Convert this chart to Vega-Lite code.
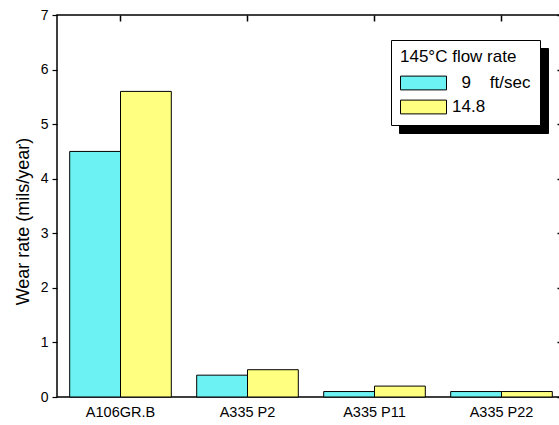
{
  "$schema": "https://vega.github.io/schema/vega-lite/v6.json",
  "width": 508,
  "height": 382,
  "autosize": "none",
  "padding": {"left": 57, "top": 15, "right": 0, "bottom": 28},
  "background": "white",
  "config": {
    "view": {"stroke": "black", "strokeWidth": 1.5},
    "font": "Liberation Sans",
    "axis": {
      "domain": false,
      "tickColor": "black",
      "labelColor": "black",
      "labelFont": "Liberation Sans",
      "titleFont": "Liberation Sans",
      "titleColor": "black",
      "titleFontWeight": "normal",
      "grid": false
    }
  },
  "data": {
    "values": [
      {"alloy": "A106GR.B", "rate": "\u200b\u00a0\u00a09\u00a0\u00a0\u00a0\u00a0ft/sec", "wear": 4.5},
      {"alloy": "A106GR.B", "rate": "14.8", "wear": 5.6},
      {"alloy": "A335 P2", "rate": "\u200b\u00a0\u00a09\u00a0\u00a0\u00a0\u00a0ft/sec", "wear": 0.4},
      {"alloy": "A335 P2", "rate": "14.8", "wear": 0.5},
      {"alloy": "A335 P11", "rate": "\u200b\u00a0\u00a09\u00a0\u00a0\u00a0\u00a0ft/sec", "wear": 0.1},
      {"alloy": "A335 P11", "rate": "14.8", "wear": 0.2},
      {"alloy": "A335 P22", "rate": "\u200b\u00a0\u00a09\u00a0\u00a0\u00a0\u00a0ft/sec", "wear": 0.1},
      {"alloy": "A335 P22", "rate": "14.8", "wear": 0.1}
    ]
  },
  "layer": [
    {
      "mark": {"type": "bar", "stroke": "black", "strokeWidth": 1},
      "encoding": {
        "x": {
          "field": "alloy",
          "type": "nominal",
          "sort": ["A106GR.B", "A335 P2", "A335 P11", "A335 P22"],
          "scale": {"paddingInner": 0.2, "paddingOuter": 0.1},
          "axis": {"title": null, "orient": "bottom", "ticks": false, "labelAngle": 0, "labelFontSize": 14.5, "labelPadding": 8}
        },
        "xOffset": {
          "field": "rate",
          "type": "nominal",
          "sort": ["\u200b\u00a0\u00a09\u00a0\u00a0\u00a0\u00a0ft/sec", "14.8"],
          "scale": {"paddingInner": 0, "paddingOuter": 0}
        },
        "y": {
          "field": "wear",
          "type": "quantitative",
          "scale": {"domain": [0, 7], "nice": false},
          "axis": {"title": "Wear rate (mils/year)", "orient": "left", "tickCount": 7, "ticks": true, "tickSize": 5, "tickWidth": 1.2, "tickColor": "black", "labelPadding": 4, "labelFontSize": 14, "titleFontSize": 18, "titleY": 206, "titlePadding": 8}
        },
        "fill": {
          "field": "rate",
          "type": "nominal",
          "scale": {"domain": ["\u200b\u00a0\u00a09\u00a0\u00a0\u00a0\u00a0ft/sec", "14.8"], "range": ["#6cf2f2", "#ffff80"]},
          "legend": {
            "title": "145°C flow rate",
            "orient": "none",
            "legendX": 334,
            "legendY": 25,
            "zindex": 3,
            "padding": 9,
            "strokeColor": "black",
            "fillColor": "white",
            "titleFontSize": 17,
            "titleFontWeight": "normal",
            "titleColor": "black",
            "titleFont": "Liberation Sans",
            "titlePadding": 5,
            "labelFontSize": 17,
            "labelColor": "black",
            "labelFont": "Liberation Sans",
            "labelOffset": 28,
            "rowPadding": 3,
            "symbolType": "M-1,-0.6H3V0.6H-1Z",
            "symbolSize": 529,
            "symbolStrokeColor": "black",
            "symbolStrokeWidth": 1,
            "symbolOpacity": 1
          }
        }
      }
    },
    {
      "mark": {"type": "tick", "opacity": 0},
      "encoding": {
        "x": {
          "field": "alloy",
          "type": "nominal",
          "sort": ["A106GR.B", "A335 P2", "A335 P11", "A335 P22"],
          "axis": {"title": null, "orient": "top", "zindex": 2, "offset": -6, "labels": false, "ticks": true, "tickSize": 6, "tickWidth": 1.5, "tickColor": "black"}
        },
        "y": {
          "field": "wear",
          "type": "quantitative",
          "axis": {"title": null, "orient": "right", "zindex": 2, "offset": -8, "labels": false, "tickCount": 7, "ticks": true, "tickSize": 6, "tickWidth": 1.5, "tickColor": "black"}
        },
        "color": {
          "field": "rate",
          "type": "nominal",
          "scale": {"range": ["black", "black"]},
          "legend": {
            "title": "145°C flow rate",
            "orient": "none",
            "legendX": 342,
            "legendY": 33,
            "zindex": 1,
            "padding": 9,
            "strokeColor": "black",
            "fillColor": "black",
            "titleFontSize": 17,
            "titleFontWeight": "normal",
            "titleColor": "black",
            "titleOpacity": 0,
            "titleFont": "Liberation Sans",
            "titlePadding": 5,
            "labelFontSize": 17,
            "labelColor": "black",
            "labelOpacity": 0,
            "labelFont": "Liberation Sans",
            "labelOffset": 28,
            "rowPadding": 3,
            "symbolType": "M-1,-0.6H3V0.6H-1Z",
            "symbolSize": 529,
            "symbolFillColor": "black",
            "symbolStrokeColor": "black",
            "symbolStrokeWidth": 1,
            "symbolOpacity": 1
          }
        }
      }
    }
  ],
  "resolve": {"axis": {"x": "independent", "y": "independent"}}
}
